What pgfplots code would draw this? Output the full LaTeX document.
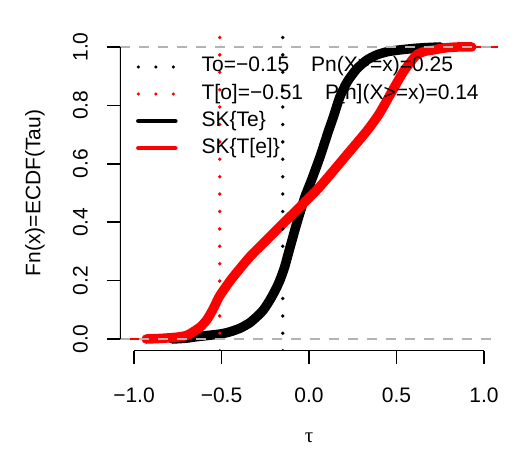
\documentclass[border=0pt]{standalone}
\usepackage{pgfplots}
\pgfplotsset{compat=1.18}
\usepackage{fontspec}
\setmainfont{Liberation Sans}
\newfontfamily\symfont{Liberation Serif}
\definecolor{gray70}{RGB}{179,179,179}
\definecolor{rred}{RGB}{255,0,0}
\begin{document}
\begin{tikzpicture}[font=\fontsize{21bp}{25bp}\selectfont]
\begin{axis}[
  at={(0,0)}, anchor=south west, scale only axis,
  width=378bp, height=315.4bp,
  xmin=-1.08, xmax=1.08, ymin=-0.04, ymax=1.04,
  axis x line*=bottom, axis y line*=left,
  axis line style={draw=none},
  xtick={-1,-0.5,0,0.5,1},
  xticklabels={−1.0,−0.5,0.0,0.5,1.0},
  ytick={0,0.2,0.4,0.6,0.8,1},
  yticklabels={0.0,0.2,0.4,0.6,0.8,1.0},
  tick align=outside, major tick length=13bp,
  tick style={line width=1.5bp, black},
  xticklabel style={anchor=center, yshift=-31.5bp},
  yticklabel style={rotate=90, anchor=center, yshift=26.5bp},
  xlabel={\symfont τ}, ylabel={Fn(x)=ECDF(Tau)},
  xlabel style={at={(axis description cs:0.5,-0.2768)}, anchor=center},
  ylabel style={at={(axis description cs:-0.2249,0.5)}, anchor=center, rotate=0},
  legend cell align=left,
  legend style={draw=none, fill=none, inner sep=0pt, outer sep=0pt,
    at={(axis cs:-0.988,0.966)}, anchor=north west,
    column sep=24bp, row sep=7.1bp,
    nodes={inner sep=0pt, text height=15bp, text depth=5bp}},
]
% thin ECDF tails
\addplot[black, line width=1.8bp, forget plot] coordinates {(-1.08,0) (-0.78,0)};
\addplot[black, line width=1.8bp, forget plot] coordinates {(0.75,1) (1.08,1)};
% black ECDF band
\addplot[black, line width=9.5bp, line cap=round, line join=round, smooth, tension=0.4, forget plot] coordinates {
(-0.78,0.000) (-0.70,0.003) (-0.642,0.008) (-0.509,0.017) (-0.45,0.025)
(-0.394,0.037) (-0.34,0.055) (-0.299,0.076) (-0.26,0.100) (-0.223,0.134)
(-0.19,0.170) (-0.166,0.202) (-0.14,0.245) (-0.118,0.293) (-0.07,0.396)
(-0.023,0.487) (0.015,0.545) (0.063,0.624) (0.11,0.710) (0.139,0.760)
(0.177,0.830) (0.22,0.882) (0.273,0.925) (0.33,0.955) (0.387,0.973)
(0.45,0.984) (0.52,0.990) (0.60,0.995) (0.673,0.998) (0.75,1.000)};
% red tails
\addplot[rred, line width=1.8bp, forget plot] coordinates {(-1.08,0) (-0.93,0)};
\addplot[rred, line width=1.8bp, forget plot] coordinates {(0.93,1) (1.08,1)};
% red ECDF band
\addplot[rred, line width=9.5bp, line cap=round, line join=round, smooth, tension=0.4, forget plot] coordinates {
(-0.93,0.000) (-0.85,0.002) (-0.76,0.006) (-0.70,0.012) (-0.661,0.025)
(-0.62,0.042) (-0.585,0.065) (-0.55,0.100) (-0.513,0.145) (-0.47,0.183)
(-0.433,0.213) (-0.337,0.282) (-0.242,0.339) (-0.147,0.396) (-0.051,0.453)
(0.044,0.510) (0.10,0.548) (0.215,0.630) (0.33,0.712) (0.40,0.770)
(0.463,0.836) (0.50,0.875) (0.539,0.915) (0.58,0.948) (0.615,0.973)
(0.66,0.985) (0.71,0.990) (0.78,0.997) (0.85,1.000) (0.93,1.000)};
% gray dashed 0/1 lines
\addplot[gray70, line width=2.5bp, dash pattern=on 10bp off 9bp, forget plot] coordinates {(-1.08,0) (1.08,0)};
\addplot[gray70, line width=2.5bp, dash pattern=on 10bp off 9bp, forget plot] coordinates {(-1.08,1) (1.08,1)};
% vertical dotted lines
\addplot[black, line width=3.8bp, line cap=round, dash pattern=on 0bp off 17.4bp, forget plot] coordinates {(-0.15,-0.04) (-0.15,1.04)};
\addplot[rred, line width=3.8bp, line cap=round, dash pattern=on 0bp off 17.4bp, forget plot] coordinates {(-0.51,-0.04) (-0.51,1.04)};
% axis lines
\draw[line width=1.5bp] (axis cs:-1,-0.04) -- (axis cs:1,-0.04);
\draw[line width=1.5bp] (axis cs:-1.08,0) -- (axis cs:-1.08,1);
% legend
\addlegendimage{legend image code/.code={\path[draw=none,fill=none] (0bp,-3bp) rectangle (40bp,3bp); \draw[black, line width=3.5bp, line cap=round, dash pattern=on 0bp off 17.5bp] (2bp,0bp) -- (37bp,0bp);}}
\addlegendentry{To=−0.15\hspace{22bp}Pn(X>=x)=0.25}
\addlegendimage{legend image code/.code={\path[draw=none,fill=none] (0bp,-3bp) rectangle (40bp,3bp); \draw[rred, line width=3.5bp, line cap=round, dash pattern=on 0bp off 17.5bp] (2bp,0bp) -- (37bp,0bp);}}
\addlegendentry{T[o]=−0.51\hspace{22bp}P[n](X>=x)=0.14}
\addlegendimage{legend image code/.code={\path[draw=none,fill=none] (0bp,-3bp) rectangle (40bp,3bp); \draw[black, line width=4.5bp, line cap=round] (2bp,0bp) -- (39bp,0bp);}}
\addlegendentry{SK\{Te\}}
\addlegendimage{legend image code/.code={\path[draw=none,fill=none] (0bp,-3bp) rectangle (40bp,3bp); \draw[rred, line width=4.5bp, line cap=round] (2bp,0bp) -- (39bp,0bp);}}
\addlegendentry{SK\{T[e]\}}
\end{axis}
\useasboundingbox (-120bp,-106.3bp) rectangle (396bp,350.7bp);
\end{tikzpicture}
\end{document}
